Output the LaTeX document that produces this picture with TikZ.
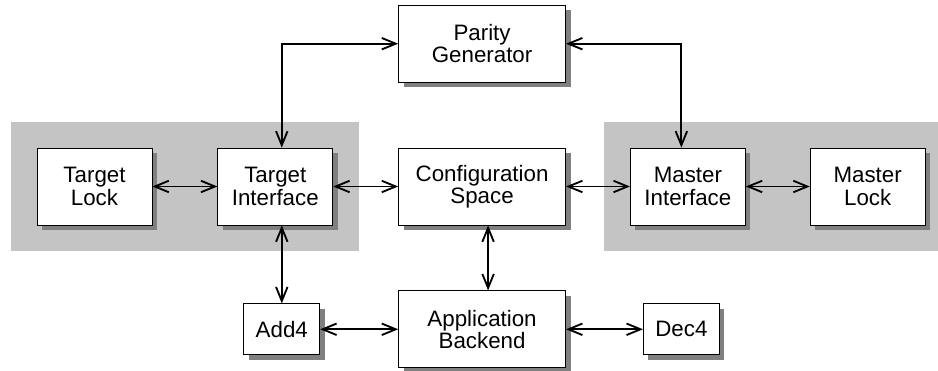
\documentclass[tikz,border=0pt]{standalone}
\usepackage{fontspec}
\setmainfont{Liberation Sans}
\usetikzlibrary{arrows.meta,positioning,fit,shadows,backgrounds}
\definecolor{pciRegion}{RGB}{196,196,196}
\definecolor{pciShadow}{RGB}{128,128,128}

\begin{document}
\begin{tikzpicture}[
  block/.style={
    draw,
    line width=0.45pt,
    fill=white,
    minimum width=2.3cm,
    minimum height=1.54cm,
    align=center,
    inner sep=0pt,
    font=\fontsize{12.7pt}{12.7pt}\selectfont,
    general shadow={shadow xshift=0.1cm,shadow yshift=-0.1cm,fill=pciShadow,draw=none}
  },
  wide/.style={block,minimum width=3.34cm},
  small/.style={block,minimum width=1.52cm,minimum height=1.02cm},
  region/.style={fill=pciRegion,inner sep=0.52cm},
  arrow/.style={{Straight Barb[length=2.8mm,width=2.3mm]}-{Straight Barb[length=2.8mm,width=2.3mm]},line width=1.05pt}
]
  \useasboundingbox (-1.89,-3.69) rectangle (16.87,3.73);
  \node[block] (tlock) at (0,0) {Target\\Lock};
  \node[block,right=1.3cm of tlock] (tif) {Target\\Interface};
  \node[wide,right=1.3cm of tif] (cfg) {Configuration\\Space};
  \node[block,right=1.28cm of cfg] (mif) {Master\\Interface};
  \node[block,right=1.28cm of mif] (mlock) {Master\\Lock};
  \node[wide,above=1.3cm of cfg] (parity) {Parity\\Generator};
  \node[wide,below=1.3cm of cfg] (app) {Application\\Backend};
  \node[small,left=1.56cm of app] (add) {Add4};
  \node[small,right=1.54cm of app] (dec) {Dec4};
  \begin{scope}[on background layer]
    \node[region,fit=(tlock) (tif)] (tside) {};
    \node[region,fit=(mif) (mlock)] (mside) {};
  \end{scope}
  \draw[arrow] (tlock) -- (tif);
  \draw[arrow] (tif) -- (cfg);
  \draw[arrow] (cfg) -- (mif);
  \draw[arrow] (mif) -- (mlock);
  \draw[arrow] (parity.west) -| (add.north |- tif.north);
  \draw[arrow] (parity.east) -| (dec.north |- mif.north);
  \draw[arrow] (add.north) -- (add.north |- tif.south);
  \draw[arrow] ([xshift=0.12cm]cfg.south) -- ([xshift=0.12cm]app.north);
  \draw[arrow] (add) -- (app);
  \draw[arrow] (app) -- (dec);
\end{tikzpicture}
\end{document}
